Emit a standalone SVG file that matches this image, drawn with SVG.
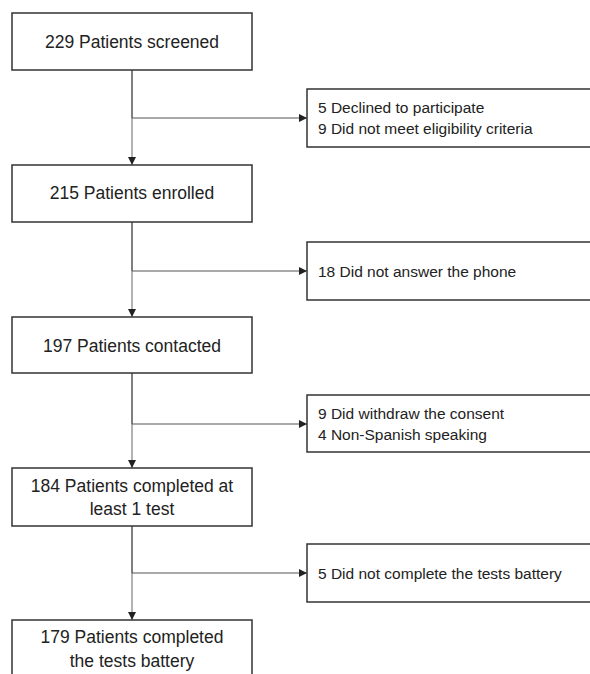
<svg xmlns="http://www.w3.org/2000/svg" width="590" height="674" viewBox="0 0 590 674">
<defs>
<style>
.box{fill:#fff;stroke:#333;stroke-width:1.5}
.main{font-family:"Liberation Sans",Arial,sans-serif;font-size:17.5px;fill:#222;text-anchor:middle}
.side{font-family:"Liberation Sans",Arial,sans-serif;font-size:15.5px;fill:#222}
.vtop{stroke:#555;stroke-width:1.5;fill:none}
.vbot{stroke:#999;stroke-width:1.5;fill:none}
.h{stroke:#555;stroke-width:1.2;fill:none}
</style>
<marker id="ah" markerWidth="8" markerHeight="8" refX="8" refY="4" orient="auto" markerUnits="userSpaceOnUse">
<path d="M0,0 L8,4 L0,8 Z" fill="#222"/>
</marker>
</defs>
<rect width="590" height="674" fill="#fff"/>
<g id="connectors">
<line class="vtop" x1="132" y1="70" x2="132" y2="118"/>
<line class="vbot" x1="132" y1="118" x2="132" y2="165" marker-end="url(#ah)"/>
<line class="h" x1="132" y1="118" x2="307" y2="118" marker-end="url(#ah)"/>
<line class="vtop" x1="132" y1="222" x2="132" y2="271"/>
<line class="vbot" x1="132" y1="271" x2="132" y2="317" marker-end="url(#ah)"/>
<line class="h" x1="132" y1="271" x2="307" y2="271" marker-end="url(#ah)"/>
<line class="vtop" x1="132" y1="373" x2="132" y2="424"/>
<line class="vbot" x1="132" y1="424" x2="132" y2="468" marker-end="url(#ah)"/>
<line class="h" x1="132" y1="424" x2="307" y2="424" marker-end="url(#ah)"/>
<line class="vtop" x1="132" y1="526" x2="132" y2="573"/>
<line class="vbot" x1="132" y1="573" x2="132" y2="620" marker-end="url(#ah)"/>
<line class="h" x1="132" y1="573" x2="307" y2="573" marker-end="url(#ah)"/>
</g>
<g id="n1"><rect class="box" x="12" y="13" width="240" height="57"/><text class="main" x="132" y="48">229 Patients screened</text></g>
<g id="n2"><rect class="box" x="12" y="165" width="240" height="57"/><text class="main" x="132" y="199">215 Patients enrolled</text></g>
<g id="n3"><rect class="box" x="12" y="317" width="240" height="56"/><text class="main" x="132" y="352">197 Patients contacted</text></g>
<g id="n4"><rect class="box" x="12" y="468" width="240" height="58"/><text class="main" x="132" y="492">184 Patients completed at</text><text class="main" x="132" y="515">least 1 test</text></g>
<g id="n5"><rect class="box" x="12" y="620" width="240" height="70"/><text class="main" x="132" y="643">179 Patients completed</text><text class="main" x="132" y="667">the tests battery</text></g>
<g id="e1"><rect class="box" x="307" y="89" width="300" height="58"/><text class="side" x="318" y="113">5 Declined to participate</text><text class="side" x="318" y="134">9 Did not meet eligibility criteria</text></g>
<g id="e2"><rect class="box" x="307" y="242" width="300" height="58"/><text class="side" x="318" y="277">18 Did not answer the phone</text></g>
<g id="e3"><rect class="box" x="307" y="395" width="300" height="57"/><text class="side" x="318" y="419">9 Did withdraw the consent</text><text class="side" x="318" y="440">4 Non-Spanish speaking</text></g>
<g id="e4"><rect class="box" x="307" y="544" width="300" height="58"/><text class="side" x="318" y="579">5 Did not complete the tests battery</text></g>
</svg>
